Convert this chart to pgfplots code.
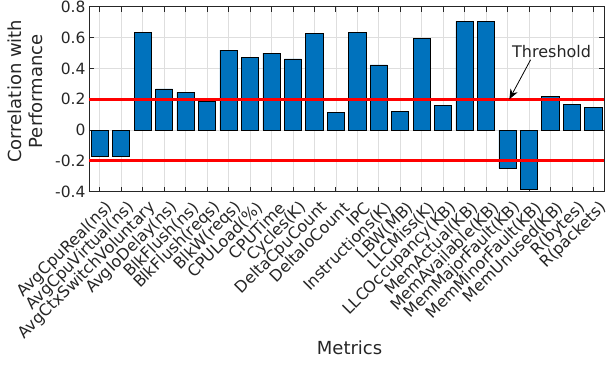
\documentclass[border=0pt]{standalone}
\usepackage{pgfplots}
\pgfplotsset{compat=1.18}
\usepackage{fontspec}
\setmainfont{DejaVu Sans}
\usetikzlibrary{arrows.meta}
\definecolor{matblue}{HTML}{0072BD}
\definecolor{axgray}{HTML}{262626}
\begin{document}
\begin{tikzpicture}
\begin{axis}[
  at={(0pt,0pt)}, anchor=south west,
  scale only axis, width=515pt, height=185pt,
  xmin=-0.5, xmax=23.5, ymin=-0.4, ymax=0.8,
  xtick={0,...,23},
  xticklabels={AvgCpuReal(ns),AvgCpuVirtual(ns),AvgCtxSwitchVoluntary,AvgIoDelay(ns),BlkFlush(ns),BlkFlush(reqs),BlkW(reqs),CPULoad(\%),CPUTime,Cycles(K),DeltaCpuCount,DeltaIoCount,IPC,Instructions(K),LBW(MB),LLCMiss(K),LLCOccupancy(KB),MemActual(KB),MemAvailable(KB),MemMajorFault(KB),MemMinorFault(KB),MemUnused(KB),R(bytes),R(packets)},
  ytick={-0.4,-0.2,0,0.2,0.4,0.6,0.8},
  yticklabels={-0.4,-0.2,0,0.2,0.4,0.6,0.8},
  grid=major, major grid style={draw=black!13, line width=0.5pt},
  tick align=inside, major tick length=5pt,
  tick style={draw=axgray, line width=0.6pt},
  axis line style={draw=axgray, line width=0.8pt},
  xticklabel style={font=\fontsize{16}{18}\selectfont, text=axgray, xshift=13pt, yshift=-11pt, rotate=45, anchor=east},
  yticklabel style={font=\fontsize{15.5}{18}\selectfont, text=axgray},
  ylabel={Correlation with\\Performance},
  ylabel style={font=\fontsize{18}{21}\selectfont, text=axgray, align=center, at={(axis description cs:-0.1243,0.543)}, anchor=center, rotate=0},
  xlabel={Metrics},
  xlabel style={font=\fontsize{18}{21}\selectfont, text=axgray, at={(axis description cs:0.506,-0.846)}, anchor=center},
]
\addplot[ybar, bar width=0.8, fill=matblue, draw=black, line width=0.6pt] coordinates {
(0,-0.170) (1,-0.170) (2,0.631) (3,0.267) (4,0.245) (5,0.185) (6,0.518) (7,0.469)
(8,0.499) (9,0.462) (10,0.625) (11,0.112) (12,0.631) (13,0.423) (14,0.120) (15,0.592)
(16,0.159) (17,0.705) (18,0.705) (19,-0.248) (20,-0.382) (21,0.216) (22,0.164) (23,0.146)
};
\addplot[red, line width=3pt] coordinates {(-0.5,0.2) (23.5,0.2)};
\addplot[red, line width=3pt] coordinates {(-0.5,-0.2) (23.5,-0.2)};
\draw[-{Stealth[length=10pt,width=8pt]}, line width=0.8pt, black] (axis cs:20.08,0.456) -- (axis cs:19.09,0.2);
\node[font=\fontsize{16}{18}\selectfont, text=axgray, anchor=center] at (axis cs:21.06,0.51) {Threshold};
\end{axis}
\pgfresetboundingbox
\path (-89pt,-172.5pt) rectangle (517pt,191.7pt);
\end{tikzpicture}
\end{document}
